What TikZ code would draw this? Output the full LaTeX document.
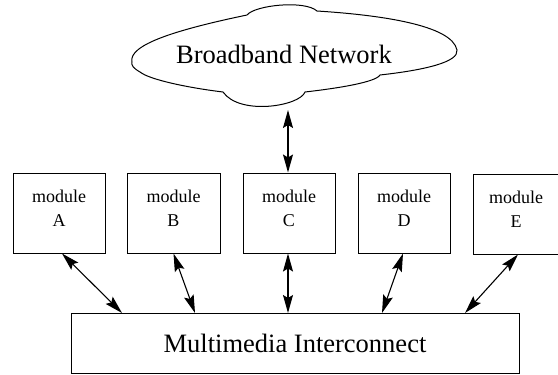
\documentclass[tikz,border=0pt]{standalone}
\usepackage{fontspec}
\setmainfont{Liberation Serif}
\usetikzlibrary{arrows.meta}
\begin{document}
\begin{tikzpicture}[x=1pt,y=-1pt,
  modbox/.style={draw,line width=1pt,minimum width=92pt,minimum height=80pt,inner sep=0pt,
    align=center,font=\fontsize{18}{24}\selectfont},
  bigtext/.style={font=\fontsize{26.5}{30}\selectfont},
  link/.style={line width=1.1pt,>={Stealth[length=18pt,width=10pt,inset=3pt]},<->}]
\useasboundingbox (0,0) rectangle (558,375);
% cloud
\draw[line width=1pt] (132,62) .. controls (128,45) and (175,30) .. (247,15)
  .. controls (255,5) and (305,0) .. (317,11)
  .. controls (380,15) and (452,25) .. (457,50)
  .. controls (459,62) and (425,70) .. (380,75)
  .. controls (376,82) and (340,88) .. (305,92)
  .. controls (300,106) and (240,116) .. (223,92)
  .. controls (190,88) and (150,80) .. (140,72)
  .. controls (133,68) and (131,65) .. (132,62) -- cycle;
\node[bigtext] (net) at (284,54) {Broadband Network};
\coordinate (cb) at (288,110);
% modules
\node[modbox] (A) at (59,213) {module\\A\rule[-9pt]{0pt}{0pt}};
\node[modbox,minimum width=93pt] (B) at (173.5,213) {module\\B\rule[-9pt]{0pt}{0pt}};
\node[modbox] (C) at (289,213) {module\\C\rule[-9pt]{0pt}{0pt}};
\node[modbox] (D) at (404,213) {module\\D\rule[-9pt]{0pt}{0pt}};
\node[modbox,minimum width=86pt] (E) at (516,214) {module\\E\rule[-9pt]{0pt}{0pt}};
% interconnect
\node[draw,line width=1pt,minimum width=448pt,minimum height=60pt,inner sep=0pt,bigtext] (M) at (295,343) {Multimedia Interconnect};
\coordinate (mA) at (122,313);
\coordinate (mB) at (195,313);
\coordinate (mC) at (288,313);
\coordinate (mD) at (382,313);
\coordinate (mE) at (465,313);
% connectors
\draw[link] (cb) -- (C.north -| cb);
\draw[link] ([xshift=3pt]A.south) -- (mA);
\draw[link] (B.south) -- (mB);
\draw[link] (C.south -| mC) -- (mC);
\draw[link] ([xshift=-1pt]D.south) -- (mD);
\draw[link] ([xshift=2pt]E.south) -- (mE);
\end{tikzpicture}
\end{document}
